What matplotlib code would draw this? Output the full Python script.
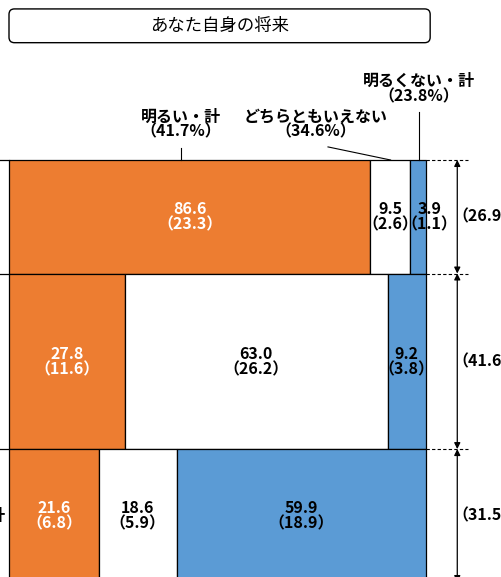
import numpy as np
import matplotlib
matplotlib.use("Agg")
import matplotlib.pyplot as plt
from matplotlib.patches import FancyBboxPatch

plt.rcParams['font.family'] = ['Noto Sans CJK JP', 'DejaVu Sans']

title = "あなた自身の将来"
categories = ["明るい・計", "どちらともいえない", "明るくない・計"]
cat_totals = [41.7, 34.6, 23.8]
row_labels = ["", "", "明るくない・計"]
row_shares = [26.9, 41.6, 31.5]
# share within row (%), and share of total in brackets
row_values = [
    [86.6, 9.5, 3.9],
    [27.8, 63.0, 9.2],
    [21.6, 18.6, 59.9],
]
total_values = [
    [23.3, 2.6, 1.1],
    [11.6, 26.2, 3.8],
    [6.8, 5.9, 18.9],
]
colors = ["#ED7D31", "#FFFFFF", "#5B9BD5"]
text_colors = ["white", "black", "black"]

W, H = 501, 577
fig = plt.figure(figsize=(W / 100, H / 100), dpi=100)
ax = fig.add_axes([0, 0, 1, 1])
ax.axis("off")

# map data units to the pixel layout
x0_px, sx = 9, 417 / 100
y0_px, sy = 160, 4.22
ax.set_xlim(-x0_px / sx, (W - x0_px) / sx)
ax.set_ylim((H - y0_px) / sy, -y0_px / sy)

# title box
tb = FancyBboxPatch((0, -35.8), 101, 8.0, boxstyle="round,pad=0,rounding_size=1.3",
                    transform=ax.transData, fc="white", ec="black", lw=1.0, clip_on=False)
ax.add_patch(tb)
ax.text(50.5, -31.8, title, ha="center", va="center", fontsize=12.5)

fs = 11.5
tops = np.concatenate([[0], np.cumsum(row_shares)[:-1]])
for i, (vals, tots) in enumerate(zip(row_values, total_values)):
    h = row_shares[i]
    y = tops[i]
    lefts = np.concatenate([[0], np.cumsum(vals)[:-1]])
    for j in range(3):
        ax.bar(lefts[j], h, width=vals[j], bottom=y, align="edge",
               color=colors[j], edgecolor="black", linewidth=0.9)
        xc = lefts[j] + vals[j] / 2
        if vals[j] < 5:
            xc += 2.8
        ax.text(xc, y + h / 2, f"{vals[j]:.1f}\n（{tots[j]:.1f}）", ha="center", va="center",
                fontsize=fs, fontweight="bold", color=text_colors[j], linespacing=0.95)
    # separators to the left of the rows
    ax.plot([-3, 0], [y, y], color="black", lw=0.9, clip_on=False)
    if row_labels[i]:
        ax.text(-0.6, y + h / 2, row_labels[i], ha="right", va="center",
                fontsize=fs, fontweight="bold")
    # right side brackets
    ax.plot([100, 110], [y, y], color="black", lw=0.8, ls=(0, (3, 2)))
    ax.annotate("", xy=(107.5, y), xytext=(107.5, y + h),
                arrowprops=dict(arrowstyle="<|-|>", color="black", lw=0.9,
                                mutation_scale=9, shrinkA=0, shrinkB=0))
    ax.text(106.4, y + h / 2, f"（{h:.1f}%）", ha="left", va="center",
            fontsize=fs, fontweight="bold")

# top category labels with leader lines
ax.text(41.3, -8.5, f"{categories[0]}\n（{cat_totals[0]:.1f}%）", ha="center", va="center",
        fontsize=fs, fontweight="bold", linespacing=0.95)
ax.plot([41.3, 41.3], [-2.9, 0], color="black", lw=0.8)
ax.text(73.5, -8.5, f"{categories[1]}\n（{cat_totals[1]:.1f}%）", ha="center", va="center",
        fontsize=fs, fontweight="bold", linespacing=0.95)
ax.plot([76.5, 91.5], [-3.1, 0], color="black", lw=0.8)
ax.text(98.3, -17.0, f"{categories[2]}\n（{cat_totals[2]:.1f}%）", ha="center", va="center",
        fontsize=fs, fontweight="bold", linespacing=0.95)
ax.plot([98.3, 98.3], [-11.4, 0], color="black", lw=0.8)

fig.savefig("out.png", dpi=100)
